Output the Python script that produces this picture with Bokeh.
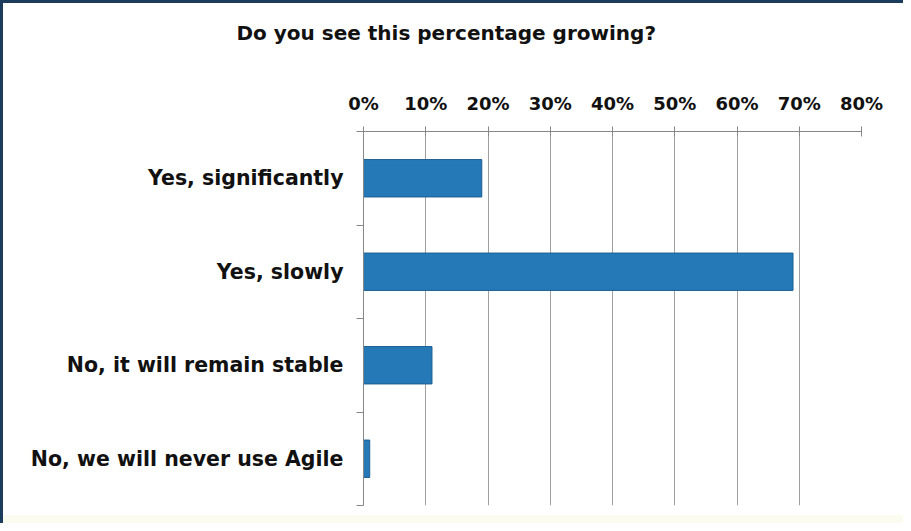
from bokeh.plotting import figure
from bokeh.models import FixedTicker, Range1d, LinearAxis
from bokeh.embed import file_html
from bokeh.resources import INLINE

title_text = "Do you see this percentage growing?"
categories = ["Yes, significantly", "Yes, slowly", "No, it will remain stable", "No, we will never use Agile"]
values = [19, 69, 11, 1]
x_ticks = [0, 10, 20, 30, 40, 50, 60, 70, 80]
x_tick_labels = [f"{t}%" for t in x_ticks]

n = len(categories)
ys = [n - 0.5 - i for i in range(n)]

p = figure(width=903, height=523, output_backend="svg", toolbar_location=None,
           x_range=Range1d(0, 80), y_range=Range1d(0, n),
           x_axis_location="above",
           min_border_left=363, min_border_right=42, min_border_top=0, min_border_bottom=18)

p.border_fill_alpha = 0
p.background_fill_color = "white"
p.outline_line_color = None
p.styles = {
    "box-shadow": "inset 3px 3px 0 0 #1c3c5c",
    "background": "linear-gradient(to bottom, #ffffff 0px, #ffffff 515px, #fbfbef 515px)",
}

p.title.text = title_text
p.title.align = "left"
p.title.offset = -127
p.title.standoff = 36
p.title.text_font = "DejaVu Sans"
p.title.text_font_style = "bold"
p.title.text_font_size = "20px"
p.title.text_color = "#111111"

p.hbar(y=ys, right=values, left=0, height=0.4,
       fill_color="#2479b6", line_color="#1d5f93", line_width=1)

# x axis (top)
xa = p.xaxis[0]
xa.ticker = FixedTicker(ticks=x_ticks, minor_ticks=[])
xa.major_label_overrides = {t: lab for t, lab in zip(x_ticks, x_tick_labels)}
xa.major_label_text_font = "DejaVu Sans"
xa.major_label_text_font_style = "bold"
xa.major_label_text_font_size = "18px"
xa.major_label_text_color = "#111111"
xa.major_label_standoff = 13
xa.axis_line_color = "#888888"
xa.major_tick_line_color = "#888888"
xa.major_tick_in = 5
xa.major_tick_out = 5

# invisible spacer between tick labels and title
spacer = LinearAxis(ticker=FixedTicker(ticks=[x_ticks[4]], minor_ticks=[]),
                    axis_line_color=None, major_tick_line_color=None, minor_tick_line_color=None,
                    major_tick_in=0, major_tick_out=27, minor_tick_in=0, minor_tick_out=0,
                    major_label_text_font_size="1px", major_label_text_alpha=0,
                    major_label_standoff=0)
p.add_layout(spacer, "above")

# y axis (left)
ya = p.yaxis[0]
ya.ticker = FixedTicker(ticks=ys, minor_ticks=list(range(0, n + 1)))
ya.major_label_overrides = {y: c for y, c in zip(ys, categories)}
ya.major_label_text_font = "DejaVu Sans"
ya.major_label_text_font_style = "bold"
ya.major_label_text_font_size = "20.5px"
ya.major_label_text_color = "#111111"
ya.major_label_standoff = 13
ya.major_tick_line_color = None
ya.major_tick_out = 0
ya.major_tick_in = 0
ya.minor_tick_line_color = "#888888"
ya.minor_tick_out = 7
ya.minor_tick_in = 0
ya.axis_line_color = "#888888"

p.xgrid.ticker = FixedTicker(ticks=x_ticks)
p.xgrid.grid_line_color = "#a0a0a0"
p.xgrid.grid_line_width = 1
p.ygrid.grid_line_color = None

open("out.html", "w").write(file_html(p, INLINE))
